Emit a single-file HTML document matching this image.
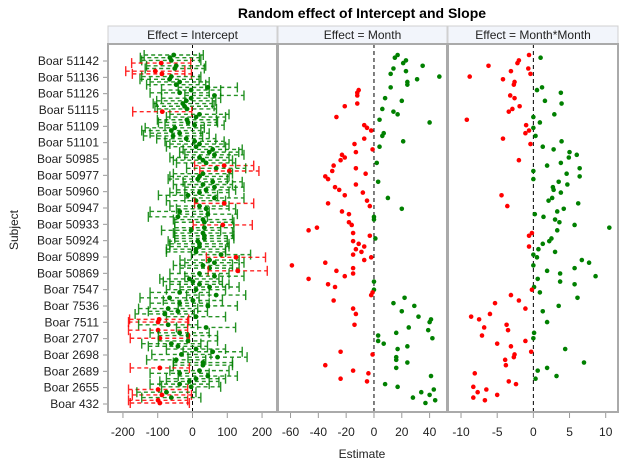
<!DOCTYPE html>
<html><head><meta charset="utf-8"><style>
body{margin:0;background:#fff;}
svg{display:block;font-family:"Liberation Sans",sans-serif;}
</style></head><body>
<svg id="chart" width="627" height="470" viewBox="0 0 627 470">
<text x="362" y="18" text-anchor="middle" font-size="14" font-weight="bold">Random effect of Intercept and Slope</text>
<text x="18" y="230" text-anchor="middle" font-size="12" transform="rotate(-90 18 230)" fill="#222">Subject</text>
<text x="362" y="458" text-anchor="middle" font-size="12" fill="#222">Estimate</text>
<g id="layer"></g>
</svg>
<script>
const subjectLabels=["Boar 51142","Boar 51136","Boar 51126","Boar 51115","Boar 51109","Boar 51101","Boar 50985","Boar 50977","Boar 50960","Boar 50947","Boar 50933","Boar 50924","Boar 50899","Boar 50869","Boar 7547","Boar 7536","Boar 7511","Boar 2707","Boar 2698","Boar 2689","Boar 2655","Boar 432"];
const interceptVals=[-54,-65,-61,-90,-47,-51,-107,-88,-61,-66,
-37,-47,44,-4,-37,63,-4,-18,-28,-23,
-16,-87,20,10,-16,-13,6,-51,-61,-37,
-56,-18,6,20,10,58,48,63,20,30,
39,91,68,106,30,20,15,58,30,63,
39,20,-13,63,10,91,20,39,-37,44,-42,30,34,
87,34,-4,30,34,34,15,20,20,10,
10,82,125,49,63,30,49,130,20,63,
-9,1,20,49,10,-37,68,-66,1,-37,
44,-70,-42,-80,10,-96,-99,-70,39,-99,
-37,-13,-94,-13,-61,-42,10,58,-32,72,
-47,30,30,-94,20,-37,44,10,-9,-37,
-4,-99,-75,-88,-61,-99,-94];
const interceptHalfWidth=[85];
const monthVals=[17,15,23,21,35,14,23,12,47,31,24,24,12,-11,-12,-12,8,20,-12,-21,6,14,17,-27,4,40,-7,-5,-2,7,6,-7,21,-14,4,-1,-13,-23,-21,-24,2,-29,-13,-30,-6,-35,-33,3,-13,-28,-25,-8,-21,10,-5,-33,-3,20,-23,-18,0,0,-18,
-16,-41,-47,-15,-3,1,-15,-11,-7,-13,-9,-15,-2,-7,-35,-59,-15,-27,-15,-21,-47,0,-33,-28,0,-1,-2,22,-29,14,29,-15,20,-13,32,41,40,-14,25,39,16,3,42,3,7,24,17,-24,-1,16,16,24,-35,16,-15,-4,41,-24,-5,8,17,43,34,40,28,44,37];
const month2Vals=[-0.6,1.0,-2.0,-2.2,-6.2,-0.7,-3.1,-0.4,-8.8,-4.2,-2.6,-2.7,1.2,0.5,3.8,-3.2,-2.6,1.6,3.9,-1.9,-2.9,-3.4,2.9,0,-9.2,0.9,-1.0,0,-0.6,-1.1,0.3,-4.2,3.9,-0.4,1.3,2.8,5.0,6.0,4.9,-2.0,3.8,1.9,6.4,0,4.6,6.4,0,3.5,4.7,2.7,2.8,3.8,-4.4,2.6,2.1,6.2,-3.6,4.2,3.3,0.2,1.4,3.0,
3.6,5.7,10.5,3.3,-0.2,-0.6,2.5,2.2,1.3,-0.6,0.7,3.0,0,0.5,6.7,7.7,0,5.7,1.9,3.7,8.6,0.6,3.7,5.7,0.1,-0.2,0.9,-3.1,6.1,-2.0,-5.3,3.5,-1.1,1.3,-6.0,-8.6,-7.5,1.9,-3.7,-6.8,-3.5,0.1,-7.1,0,-1.1,-5.0,-3.1,4.4,-0.3,-2.6,-2.7,-3.9,7.0,-3.8,1.9,0.6,-8.1,3.2,0.3,-3.4,-2.4,-8.3,-6.5,-7.7,-5.0,-8.3,-6.7];
const interceptTicks=[-200,-100,0,100,200];
const monthTicks=[-60,-40,-20,0,20,40];
const month2Ticks=[-10,-5,0,5,10];

const NS="http://www.w3.org/2000/svg";
const layer=document.getElementById('layer');
function mk(tag,attrs,parent){const e=document.createElementNS(NS,tag);for(const k in attrs)e.setAttribute(k,attrs[k]);(parent||layer).appendChild(e);return e;}
const TOP=44,BOT=412,ROW0=55,ROWN=403;
const nRows=130;
function yRow(i){return ROW0+i*(ROWN-ROW0)/(nRows-1);}
const panels=[
 {name:'intercept',title:'Effect = Intercept',x0:108,x1:277,min:-243,max:243,ticks:interceptTicks},
 {name:'month',title:'Effect = Month',x0:278,x1:447,min:-69,max:52.5,ticks:monthTicks},
 {name:'month-month',title:'Effect = Month*Month',x0:448,x1:618,min:-11.8,max:11.7,ticks:month2Ticks}
];
panels.forEach(p=>{p.sx=v=>p.x0+(v-p.min)/(p.max-p.min)*(p.x1-p.x0);});
subjectLabels.forEach((s,i)=>{
 const y=61+i*(404-61)/(subjectLabels.length-1);
 const t=mk('text',{x:99,y:y+4,'text-anchor':'end','font-size':12,fill:'#222'});
 t.textContent=s;
 
 
 const l=mk('line',{x1:103,x2:108,y1:y,y2:y,stroke:'#999'});
 
 
});
panels.forEach(p=>{
 const g=mk('g',{});
 
 
 const strip=mk('rect',{x:p.x0,y:26,width:p.x1-p.x0,height:TOP-26,fill:'#f2f5fb',stroke:'#d0d0d0'},g);
 
 
 const st=mk('text',{x:(p.x0+p.x1)/2,y:39,'text-anchor':'middle','font-size':12,fill:'#222'},g);
 st.textContent=p.title;
 
 
 const zx=p.sx(0);
 const zl=mk('line',{x1:zx,x2:zx,y1:TOP,y2:BOT,stroke:'#000','stroke-dasharray':'4,3'},g);
 
 
 p.ticks.forEach(t=>{
  const x=p.sx(t);
  const tl=mk('line',{x1:x,x2:x,y1:BOT,y2:BOT+6,stroke:'#999'},g);
  
  
  const tt=mk('text',{x:x,y:BOT+24,'text-anchor':'middle','font-size':12,fill:'#222'},g);
  tt.textContent=t;
  
  
 });
 p.g=g;
});
const pI=panels[0];
interceptVals.forEach((v,i)=>{
 const hw=interceptHalfWidth[0];
 const red=(v-hw>0)||(v+hw<0);
 const col=red?'#ff0000':'#008000';
 const y=yRow(i);
 const lo=pI.sx(v-hw),hi=pI.sx(v+hw);
 const bar=mk('g',{opacity:0.85},pI.g);
 
 
 mk('line',{x1:lo,x2:hi,y1:y,y2:y,stroke:col,'stroke-width':1.4,'stroke-dasharray':'4,3'},bar);
 mk('line',{x1:lo,x2:lo,y1:y-5,y2:y+5,stroke:col,'stroke-width':1.4},bar);
 mk('line',{x1:hi,x2:hi,y1:y-5,y2:y+5,stroke:col,'stroke-width':1.4},bar);
 const c=mk('circle',{cx:pI.sx(v),cy:y,r:2.4,fill:col},pI.g);
 
 
});
[[panels[1],monthVals,'month-point'],[panels[2],month2Vals,'month-month-point']].forEach(([p,vals,nm])=>{
 vals.forEach((v,i)=>{
  const c=mk('circle',{cx:p.sx(v),cy:yRow(i),r:2.3,fill:v<0?'#ff0000':'#008000'},p.g);
  
  
 });
});
panels.forEach(p=>{
 const fr=mk('rect',{x:p.x0,y:TOP,width:p.x1-p.x0,height:BOT-TOP,fill:'none',stroke:'#aaa','stroke-width':2});
 
 
});
</script>
</body></html>
